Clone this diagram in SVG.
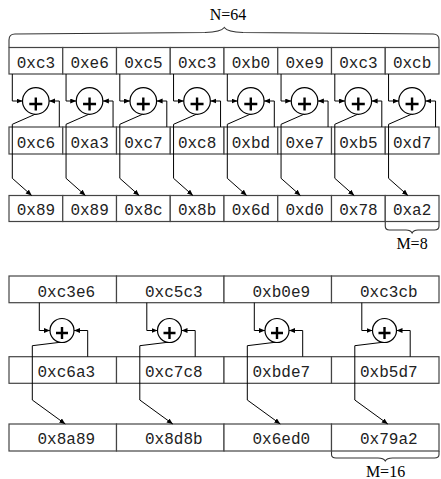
<svg xmlns="http://www.w3.org/2000/svg" width="441" height="479" viewBox="0 0 441 479">
<style>
.cell{fill:#fff;stroke:#444;stroke-width:1.2}
.t{font-family:"Liberation Mono","DejaVu Sans Mono",monospace;font-size:16px;fill:#222;text-anchor:middle}
.lbl{font-family:"Liberation Serif","DejaVu Serif",serif;font-size:16px;fill:#000;text-anchor:middle}
.c{fill:#fff;stroke:#000;stroke-width:1.2}
.p{stroke:#000;stroke-width:2.4;fill:none}
.w{fill:none;stroke:#000;stroke-width:1}
.br{fill:none;stroke:#333;stroke-width:1.1}
</style>
<defs>
<marker id="a" markerWidth="7" markerHeight="6" refX="6" refY="2.5" orient="auto" markerUnits="userSpaceOnUse"><path d="M0,0 L6,2.5 L0,5 z" fill="#000"/></marker>
</defs>
<g id="braces">
<path class="br" d="M9,47.5 V40 Q9,34 15,34 L205,32.5 Q221,32 224.3,27.5 Q227.5,32 243,32.5 L433,34 Q439,34 439,40 V47.5"/>
<text class="lbl" x="228" y="20">N=64</text>
<path class="br" d="M385.25,221.5 V226 Q385.25,230 389.5,230 L406,230 Q410.5,230 412.1,233 Q413.7,230 418,230 L434.5,230 Q439,230 439,226 V221.5"/>
<text class="lbl" x="412" y="249">M=8</text>
<path class="br" d="M331.5,451 V454.5 Q331.5,458 336,458 L378,458 Q383.5,458 385.25,461 Q387,458 392.5,458 L434.5,458 Q439,458 439,454.5 V451"/>
<text class="lbl" x="385.5" y="477">M=16</text>
</g>
<g id="row1">
<g id="a0"><rect class="cell" x="9" y="47.5" width="53.75" height="26.5"/><text class="t" x="35.9" y="67.5">0xc3</text></g>
<g id="a1"><rect class="cell" x="62.75" y="47.5" width="53.75" height="26.5"/><text class="t" x="89.6" y="67.5">0xe6</text></g>
<g id="a2"><rect class="cell" x="116.5" y="47.5" width="53.75" height="26.5"/><text class="t" x="143.4" y="67.5">0xc5</text></g>
<g id="a3"><rect class="cell" x="170.25" y="47.5" width="53.75" height="26.5"/><text class="t" x="197.1" y="67.5">0xc3</text></g>
<g id="a4"><rect class="cell" x="224" y="47.5" width="53.75" height="26.5"/><text class="t" x="250.9" y="67.5">0xb0</text></g>
<g id="a5"><rect class="cell" x="277.75" y="47.5" width="53.75" height="26.5"/><text class="t" x="304.6" y="67.5">0xe9</text></g>
<g id="a6"><rect class="cell" x="331.5" y="47.5" width="53.75" height="26.5"/><text class="t" x="358.4" y="67.5">0xc3</text></g>
<g id="a7"><rect class="cell" x="385.25" y="47.5" width="53.75" height="26.5"/><text class="t" x="412.1" y="67.5">0xcb</text></g>
</g>
<g id="row2">
<g id="b0"><rect class="cell" x="9" y="127" width="53.75" height="27"/><text class="t" x="35.9" y="147.5">0xc6</text></g>
<g id="b1"><rect class="cell" x="62.75" y="127" width="53.75" height="27"/><text class="t" x="89.6" y="147.5">0xa3</text></g>
<g id="b2"><rect class="cell" x="116.5" y="127" width="53.75" height="27"/><text class="t" x="143.4" y="147.5">0xc7</text></g>
<g id="b3"><rect class="cell" x="170.25" y="127" width="53.75" height="27"/><text class="t" x="197.1" y="147.5">0xc8</text></g>
<g id="b4"><rect class="cell" x="224" y="127" width="53.75" height="27"/><text class="t" x="250.9" y="147.5">0xbd</text></g>
<g id="b5"><rect class="cell" x="277.75" y="127" width="53.75" height="27"/><text class="t" x="304.6" y="147.5">0xe7</text></g>
<g id="b6"><rect class="cell" x="331.5" y="127" width="53.75" height="27"/><text class="t" x="358.4" y="147.5">0xb5</text></g>
<g id="b7"><rect class="cell" x="385.25" y="127" width="53.75" height="27"/><text class="t" x="412.1" y="147.5">0xd7</text></g>
</g>
<g id="row3">
<g id="c0"><rect class="cell" x="9" y="195.5" width="53.75" height="26"/><text class="t" x="35.9" y="215">0x89</text></g>
<g id="c1"><rect class="cell" x="62.75" y="195.5" width="53.75" height="26"/><text class="t" x="89.6" y="215">0x89</text></g>
<g id="c2"><rect class="cell" x="116.5" y="195.5" width="53.75" height="26"/><text class="t" x="143.4" y="215">0x8c</text></g>
<g id="c3"><rect class="cell" x="170.25" y="195.5" width="53.75" height="26"/><text class="t" x="197.1" y="215">0x8b</text></g>
<g id="c4"><rect class="cell" x="224" y="195.5" width="53.75" height="26"/><text class="t" x="250.9" y="215">0x6d</text></g>
<g id="c5"><rect class="cell" x="277.75" y="195.5" width="53.75" height="26"/><text class="t" x="304.6" y="215">0xd0</text></g>
<g id="c6"><rect class="cell" x="331.5" y="195.5" width="53.75" height="26"/><text class="t" x="358.4" y="215">0x78</text></g>
<g id="c7"><rect class="cell" x="385.25" y="195.5" width="53.75" height="26"/><text class="t" x="412.1" y="215">0xa2</text></g>
</g>
<g id="adders8">
<g id="x0"><circle class="c" cx="35.8" cy="101" r="13.3"/><path class="p" d="M29.3,104 H42.3 M35.8,97.5 V110.5"/></g>
<g id="x1"><circle class="c" cx="89.55" cy="101" r="13.3"/><path class="p" d="M83.05,104 H96.05 M89.55,97.5 V110.5"/></g>
<g id="x2"><circle class="c" cx="143.3" cy="101" r="13.3"/><path class="p" d="M136.8,104 H149.8 M143.3,97.5 V110.5"/></g>
<g id="x3"><circle class="c" cx="197.05" cy="101" r="13.3"/><path class="p" d="M190.55,104 H203.55 M197.05,97.5 V110.5"/></g>
<g id="x4"><circle class="c" cx="250.8" cy="101" r="13.3"/><path class="p" d="M244.3,104 H257.3 M250.8,97.5 V110.5"/></g>
<g id="x5"><circle class="c" cx="304.55" cy="101" r="13.3"/><path class="p" d="M298.05,104 H311.05 M304.55,97.5 V110.5"/></g>
<g id="x6"><circle class="c" cx="358.3" cy="101" r="13.3"/><path class="p" d="M351.8,104 H364.8 M358.3,97.5 V110.5"/></g>
<g id="x7"><circle class="c" cx="412.05" cy="101" r="13.3"/><path class="p" d="M405.55,104 H418.55 M412.05,97.5 V110.5"/></g>
</g>
<g id="rowA">
<g id="d0"><rect class="cell" x="9" y="276" width="107.5" height="26.7"/><text class="t" x="66.3" y="296.5">0xc3e6</text></g>
<g id="d1"><rect class="cell" x="116.5" y="276" width="107.5" height="26.7"/><text class="t" x="173.8" y="296.5">0xc5c3</text></g>
<g id="d2"><rect class="cell" x="224" y="276" width="107.5" height="26.7"/><text class="t" x="281.3" y="296.5">0xb0e9</text></g>
<g id="d3"><rect class="cell" x="331.5" y="276" width="107.5" height="26.7"/><text class="t" x="388.8" y="296.5">0xc3cb</text></g>
</g>
<g id="rowB">
<g id="e0"><rect class="cell" x="9" y="356.7" width="107.5" height="26.6"/><text class="t" x="66.3" y="377">0xc6a3</text></g>
<g id="e1"><rect class="cell" x="116.5" y="356.7" width="107.5" height="26.6"/><text class="t" x="173.8" y="377">0xc7c8</text></g>
<g id="e2"><rect class="cell" x="224" y="356.7" width="107.5" height="26.6"/><text class="t" x="281.3" y="377">0xbde7</text></g>
<g id="e3"><rect class="cell" x="331.5" y="356.7" width="107.5" height="26.6"/><text class="t" x="388.8" y="377">0xb5d7</text></g>
</g>
<g id="rowC">
<g id="f0"><rect class="cell" x="9" y="424" width="107.5" height="27"/><text class="t" x="66.3" y="444">0x8a89</text></g>
<g id="f1"><rect class="cell" x="116.5" y="424" width="107.5" height="27"/><text class="t" x="173.8" y="444">0x8d8b</text></g>
<g id="f2"><rect class="cell" x="224" y="424" width="107.5" height="27"/><text class="t" x="281.3" y="444">0x6ed0</text></g>
<g id="f3"><rect class="cell" x="331.5" y="424" width="107.5" height="27"/><text class="t" x="388.8" y="444">0x79a2</text></g>
</g>
<g id="adders16">
<g id="y0"><circle class="c" cx="62" cy="330.5" r="12"/><path class="p" d="M56,333 H68 M62,327 V339"/></g>
<g id="y1"><circle class="c" cx="169.5" cy="330.5" r="12"/><path class="p" d="M163.5,333 H175.5 M169.5,327 V339"/></g>
<g id="y2"><circle class="c" cx="277" cy="330.5" r="12"/><path class="p" d="M271,333 H283 M277,327 V339"/></g>
<g id="y3"><circle class="c" cx="384.5" cy="330.5" r="12"/><path class="p" d="M378.5,333 H390.5 M384.5,327 V339"/></g>
</g>
<g id="connectors">
<path class="w" marker-end="url(#a)" d="M12.3,74 V101 H22.5"/>
<path class="w" marker-end="url(#a)" d="M66.05,74 V101 H76.25"/>
<path class="w" marker-end="url(#a)" d="M119.8,74 V101 H130"/>
<path class="w" marker-end="url(#a)" d="M173.55,74 V101 H183.75"/>
<path class="w" marker-end="url(#a)" d="M227.3,74 V101 H237.5"/>
<path class="w" marker-end="url(#a)" d="M281.05,74 V101 H291.25"/>
<path class="w" marker-end="url(#a)" d="M334.8,74 V101 H345"/>
<path class="w" marker-end="url(#a)" d="M388.55,74 V101 H398.75"/>
<path class="w" marker-end="url(#a)" d="M59.3,127 V101 H49.1"/>
<path class="w" marker-end="url(#a)" d="M113.05,127 V101 H102.85"/>
<path class="w" marker-end="url(#a)" d="M166.8,127 V101 H156.6"/>
<path class="w" marker-end="url(#a)" d="M220.55,127 V101 H210.35"/>
<path class="w" marker-end="url(#a)" d="M274.3,127 V101 H264.1"/>
<path class="w" marker-end="url(#a)" d="M328.05,127 V101 H317.85"/>
<path class="w" marker-end="url(#a)" d="M381.8,127 V101 H371.6"/>
<path class="w" marker-end="url(#a)" d="M435.55,127 V101 H425.35"/>
<path class="w" marker-end="url(#a)" d="M35,114.3 L12.3,124.3 V178.3 L31.7,195.5"/>
<path class="w" marker-end="url(#a)" d="M88.75,114.3 L66.05,124.3 V178.3 L85.45,195.5"/>
<path class="w" marker-end="url(#a)" d="M142.5,114.3 L119.8,124.3 V178.3 L139.2,195.5"/>
<path class="w" marker-end="url(#a)" d="M196.25,114.3 L173.55,124.3 V178.3 L192.95,195.5"/>
<path class="w" marker-end="url(#a)" d="M250,114.3 L227.3,124.3 V178.3 L246.7,195.5"/>
<path class="w" marker-end="url(#a)" d="M303.75,114.3 L281.05,124.3 V178.3 L300.45,195.5"/>
<path class="w" marker-end="url(#a)" d="M357.5,114.3 L334.8,124.3 V178.3 L354.2,195.5"/>
<path class="w" marker-end="url(#a)" d="M411.25,114.3 L388.55,124.3 V178.3 L407.95,195.5"/>
<path class="w" marker-end="url(#a)" d="M39.3,302.7 V330.5 H50"/>
<path class="w" marker-end="url(#a)" d="M146.8,302.7 V330.5 H157.5"/>
<path class="w" marker-end="url(#a)" d="M254.3,302.7 V330.5 H265"/>
<path class="w" marker-end="url(#a)" d="M361.8,302.7 V330.5 H372.5"/>
<path class="w" marker-end="url(#a)" d="M87.7,356.7 V330.5 H74"/>
<path class="w" marker-end="url(#a)" d="M195.2,356.7 V330.5 H181.5"/>
<path class="w" marker-end="url(#a)" d="M302.7,356.7 V330.5 H289"/>
<path class="w" marker-end="url(#a)" d="M410.2,356.7 V330.5 H396.5"/>
<path class="w" marker-end="url(#a)" d="M60,342.3 L32.3,345.7 V400 L65.3,424"/>
<path class="w" marker-end="url(#a)" d="M167.5,342.3 L139.8,345.7 V400 L172.8,424"/>
<path class="w" marker-end="url(#a)" d="M275,342.3 L247.3,345.7 V400 L280.3,424"/>
<path class="w" marker-end="url(#a)" d="M382.5,342.3 L354.8,345.7 V400 L387.8,424"/>
</g>
</svg>
